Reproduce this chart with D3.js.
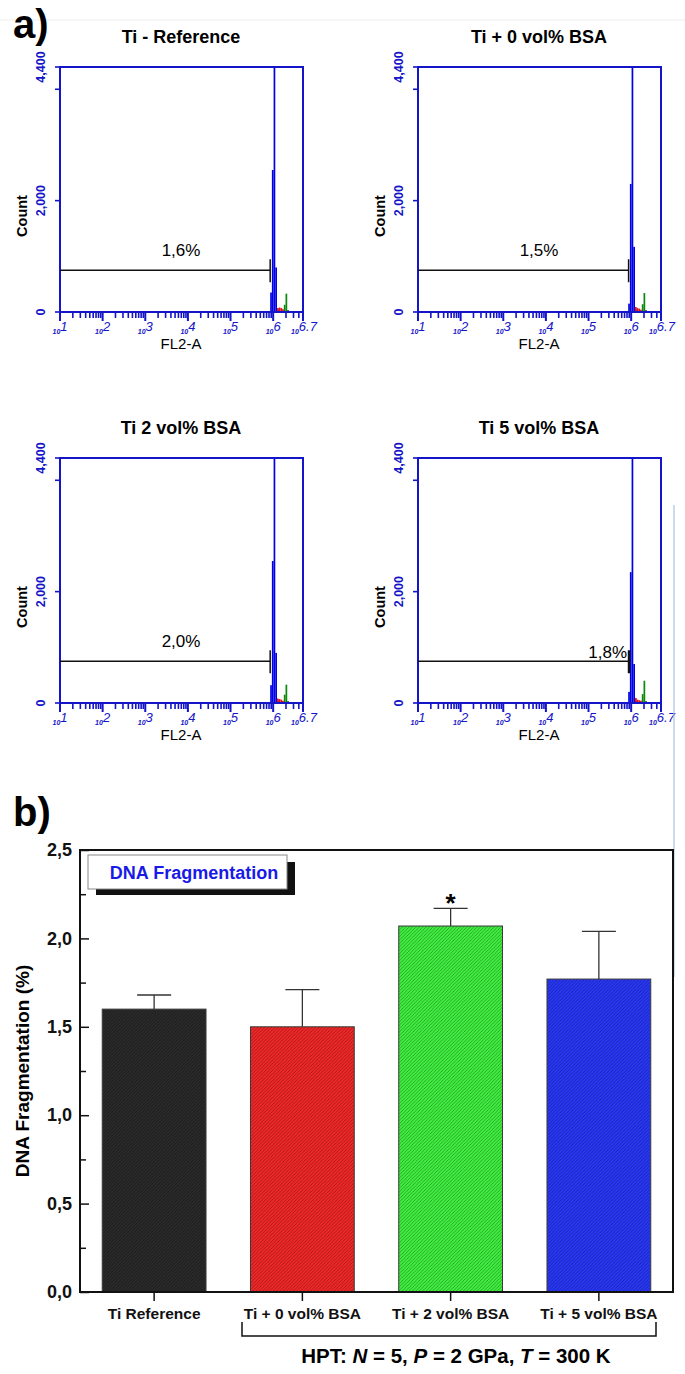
<!DOCTYPE html>
<html>
<head>
<meta charset="utf-8">
<script src="https://cdn.jsdelivr.net/npm/d3@7"></script>
<style>
  body { margin: 0; background: #fff; }
  svg { display: block; font-family: "Liberation Sans", Arial, sans-serif; }
</style>
</head>
<body>
<div id="chart"></div>
<script>
// ---- panel a) flow cytometry histograms ----
const panelTitles = ['Ti - Reference', 'Ti + 0 vol% BSA', 'Ti 2 vol% BSA', 'Ti 5 vol% BSA'];
const gateLabels = ['1,6%', '1,5%', '2,0%', '1,8%'];
const gateEnd = [5.93, 5.94, 5.93, 5.95];     // log10 FL2-A where the gate marker stops
const gateCount = [750, 750, 750, 750];       // marker height in counts
const countTicks = [0, 2000, 4400];
const countTickLabels = ['0', '2,000', '4,400'];
const decades = [1, 2, 3, 4, 5, 6, 6.7];

// bins: [log10 start, count]
const blueBins = [
  [[5.93, 350], [5.97, 2550], [6.01, 9000], [6.05, 800], [6.09, 40]],
  [[5.93, 150], [5.97, 2300], [6.01, 9000], [6.05, 1170], [6.09, 40]],
  [[5.93, 320], [5.97, 2550], [6.01, 9000], [6.05, 900], [6.09, 40]],
  [[5.93, 200], [5.97, 2350], [6.01, 9000], [6.05, 700], [6.09, 40]]
];
const redBins = [
  [[6.09, 70], [6.13, 80], [6.17, 70], [6.21, 50]],
  [[6.09, 90], [6.13, 70], [6.17, 60], [6.21, 40]],
  [[6.09, 80], [6.13, 70], [6.17, 60], [6.21, 40]],
  [[6.09, 90], [6.13, 60], [6.17, 50], [6.21, 40]]
];
const greenBins = [
  [[6.25, 130], [6.29, 330]],
  [[6.25, 140], [6.29, 340]],
  [[6.25, 150], [6.29, 330]],
  [[6.25, 160], [6.29, 400]]
];
const blackBins = [
  [[6.33, 30], [6.37, 10]],
  [[6.33, 30], [6.37, 10]],
  [[6.33, 30], [6.37, 15]],
  [[6.33, 30], [6.37, 10]]
];

// ---- panel b) bar chart ----
const groups = ['Ti Reference', 'Ti + 0 vol% BSA', 'Ti + 2 vol% BSA', 'Ti + 5 vol% BSA'];
const means = [1.60, 1.50, 2.07, 1.77];
const errors = [0.08, 0.21, 0.10, 0.27];
const significant = [false, false, true, false];
const barColors = ['#2a2a2a', '#f02828', '#40f040', '#2838f4'];
const hatchColors = ['#111111', '#7a1010', '#1a701a', '#121580'];
const yTicks = [0, 0.5, 1, 1.5, 2, 2.5];

const width = 685;
const height = 1374;
const font = '"Liberation Sans", Arial, sans-serif';

const svg = d3.select('#chart')
  .append('svg')
  .attr('width', width)
  .attr('height', height);

const blue = '#1414c8';

// faint rule at the very top of the figure
svg.append('line')
  .attr('x1', 0).attr('x2', width).attr('y1', 20).attr('y2', 20)
  .attr('stroke', '#eeeeee');

svg.append('text')
  .attr('x', 13).attr('y', 38)
  .attr('font-size', 40).attr('font-weight', 'bold')
  .text('a)');

const panelPos = [
  { x: 60, y: 67 },
  { x: 418, y: 67 },
  { x: 60, y: 458 },
  { x: 418, y: 458 }
];
const pw = 243;
const ph = 245;

const defs = svg.append('defs');

panelPos.forEach((p, i) => drawHist(i, p));

function drawHist(i, p) {
  const x = d3.scaleLinear().domain([1, 6.7]).range([p.x, p.x + pw]);
  const y = d3.scaleLinear().domain([0, 4400]).range([p.y + ph, p.y]);
  const g = svg.append('g');

  defs.append('clipPath').attr('id', 'clip' + i)
    .append('rect')
    .attr('x', p.x).attr('y', p.y).attr('width', pw).attr('height', ph);

  // title
  g.append('text')
    .attr('x', p.x + 121).attr('y', p.y - 24)
    .attr('text-anchor', 'middle')
    .attr('font-size', 18).attr('font-weight', 'bold')
    .text(panelTitles[i]);

  // histogram bins
  const bins = g.append('g').attr('clip-path', `url(#clip${i})`);
  const step = 0.04;
  [[blueBins[i], '#0000e6'], [redBins[i], '#e01010'], [greenBins[i], '#0a8a0a'], [blackBins[i], '#000']]
    .forEach(([data, col]) => {
      bins.selectAll(null)
        .data(data)
        .join('rect')
        .attr('x', d => x(d[0]))
        .attr('width', d => x(d[0] + step) - x(d[0]))
        .attr('y', d => y(d[1]))
        .attr('height', d => y(0) - y(d[1]))
        .attr('fill', col);
    });

  // frame
  g.append('rect')
    .attr('x', p.x).attr('y', p.y).attr('width', pw).attr('height', ph)
    .attr('fill', 'none').attr('stroke', blue).attr('stroke-width', 2);

  // log ticks on x axis
  const minor = [];
  for (let d = 1; d < 7; d++) {
    for (let m = 2; m <= 9; m++) {
      const v = d + Math.log10(m);
      if (v < 6.7) minor.push(v);
    }
  }
  g.selectAll(null).data(minor).join('line')
    .attr('x1', d => x(d)).attr('x2', d => x(d))
    .attr('y1', y(0)).attr('y2', y(0) + 6)
    .attr('stroke', blue).attr('stroke-width', 1.6);
  g.selectAll(null).data(decades).join('line')
    .attr('x1', d => x(d)).attr('x2', d => x(d))
    .attr('y1', y(0)).attr('y2', y(0) + 9)
    .attr('stroke', blue).attr('stroke-width', 2);

  const xl = g.selectAll(null).data(decades).join('text')
    .attr('x', d => x(d) + (d === 6.7 ? 1 : 0))
    .attr('y', y(0) + 20)
    .attr('text-anchor', 'middle')
    .attr('fill', blue)
    .attr('font-style', 'italic');
  xl.append('tspan').attr('font-size', 7).attr('font-weight', 'bold').attr('dy', 2).text('10');
  xl.append('tspan').attr('font-size', 13).attr('dy', -3).text(d => String(d));

  g.append('text')
    .attr('x', p.x + 121).attr('y', y(0) + 37)
    .attr('text-anchor', 'middle')
    .attr('font-size', 15)
    .text('FL2-A');

  // count axis
  g.selectAll(null).data([0, 2000, 4000, 4400]).join('line')
    .attr('x1', p.x).attr('x2', p.x - 5)
    .attr('y1', d => y(d)).attr('y2', d => y(d))
    .attr('stroke', blue).attr('stroke-width', 1.6);
  g.selectAll(null).data(countTicks).join('text')
    .attr('transform', d => `translate(${p.x - 19},${y(d)}) rotate(-90)`)
    .attr('text-anchor', 'middle')
    .attr('dy', '0.35em')
    .attr('fill', blue)
    .attr('font-size', 12.5).attr('font-weight', 'bold')
    .text((d, k) => countTickLabels[k]);

  g.append('text')
    .attr('transform', `translate(${p.x - 38},${p.y + 149}) rotate(-90)`)
    .attr('text-anchor', 'middle')
    .attr('dy', '0.35em')
    .attr('font-size', 14.5).attr('font-weight', 'bold')
    .text('Count');

  // gate marker
  const gy = y(gateCount[i]);
  const gx = x(gateEnd[i]);
  g.append('line')
    .attr('x1', p.x).attr('x2', gx).attr('y1', gy).attr('y2', gy)
    .attr('stroke', '#111').attr('stroke-width', 1.5);
  g.append('line')
    .attr('x1', gx).attr('x2', gx).attr('y1', gy - 11).attr('y2', gy + 12)
    .attr('stroke', '#111').attr('stroke-width', i === 3 ? 2.5 : 1.5);
  if (i === 3) {
    g.append('text')
      .attr('x', gx - 2).attr('y', gy - 3)
      .attr('text-anchor', 'end')
      .attr('font-size', 17)
      .text(gateLabels[i]);
  } else {
    g.append('text')
      .attr('x', p.x + 121).attr('y', gy - 14)
      .attr('text-anchor', 'middle')
      .attr('font-size', 17)
      .text(gateLabels[i]);
  }
}

// stray light-blue rule on the right edge
svg.append('line')
  .attr('x1', 674).attr('x2', 674).attr('y1', 505).attr('y2', 977)
  .attr('stroke', '#a9c3de').attr('stroke-width', 1.2);

// ---- panel b) ----
svg.append('text')
  .attr('x', 13).attr('y', 826)
  .attr('font-size', 40).attr('font-weight', 'bold')
  .text('b)');

const frame = { left: 80, right: 673, top: 850, bottom: 1292 };

const xScale = d3.scaleBand()
  .domain(groups)
  .range([frame.left, frame.right])
  .paddingInner(0.3)
  .paddingOuter(0.15);

const yScale = d3.scaleLinear()
  .domain([0, 2.5])
  .range([frame.bottom, frame.top]);

groups.forEach((grp, i) => {
  const pat = defs.append('pattern')
    .attr('id', 'hatch' + i)
    .attr('patternUnits', 'userSpaceOnUse')
    .attr('width', 3.4).attr('height', 3.4);
  pat.append('rect').attr('width', 3.4).attr('height', 3.4).attr('fill', barColors[i]);
  pat.append('path')
    .attr('d', 'M-1,1 l2,-2 M0,3.4 l3.4,-3.4 M2.4,4.4 l2,-2')
    .attr('stroke', hatchColors[i]).attr('stroke-width', 0.6);
});

const bars = svg.append('g');

// error bars (upper only)
bars.selectAll('.err')
  .data(groups)
  .join('g')
  .each(function (grp, i) {
    const cx = xScale(grp) + xScale.bandwidth() / 2;
    const g = d3.select(this);
    g.append('line')
      .attr('x1', cx).attr('x2', cx)
      .attr('y1', yScale(means[i])).attr('y2', yScale(means[i] + errors[i]))
      .attr('stroke', '#333').attr('stroke-width', 1.3);
    g.append('line')
      .attr('x1', cx - 17).attr('x2', cx + 17)
      .attr('y1', yScale(means[i] + errors[i])).attr('y2', yScale(means[i] + errors[i]))
      .attr('stroke', '#333').attr('stroke-width', 1.3);
    if (significant[i]) {
      g.append('text')
        .attr('x', cx).attr('y', yScale(means[i] + errors[i]) + 4)
        .attr('text-anchor', 'middle')
        .attr('font-size', 26).attr('font-weight', 'bold')
        .text('*');
    }
  });

bars.selectAll('rect')
  .data(groups)
  .join('rect')
  .attr('x', d => xScale(d))
  .attr('width', xScale.bandwidth())
  .attr('y', (d, i) => yScale(means[i]))
  .attr('height', (d, i) => yScale(0) - yScale(means[i]))
  .attr('fill', (d, i) => `url(#hatch${i})`)
  .attr('stroke', '#3a3a3a').attr('stroke-width', 1);

// minor y ticks
svg.append('g')
  .attr('transform', `translate(${frame.left},0)`)
  .call(d3.axisLeft(yScale).tickValues([0.25, 0.75, 1.25, 1.75, 2.25]).tickSize(-6).tickFormat(''))
  .call(g => g.select('.domain').remove())
  .call(g => g.selectAll('line').attr('stroke', '#111').attr('stroke-width', 1.5));

// major y ticks
svg.append('g')
  .attr('transform', `translate(${frame.left},0)`)
  .call(d3.axisLeft(yScale).tickValues(yTicks).tickSize(-9).tickPadding(8)
    .tickFormat(d => d3.format('.1f')(d).replace('.', ',')))
  .call(g => g.select('.domain').remove())
  .call(g => g.selectAll('line').attr('stroke', '#111').attr('stroke-width', 1.5))
  .call(g => g.selectAll('text')
    .attr('font-size', 18).attr('font-weight', 'bold')
    .attr('font-family', font)
    .attr('fill', '#111'));

// x axis
svg.append('g')
  .attr('transform', `translate(0,${frame.bottom})`)
  .call(d3.axisBottom(xScale).tickSize(9).tickPadding(7))
  .call(g => g.select('.domain').remove())
  .call(g => g.selectAll('line').attr('stroke', '#111').attr('stroke-width', 1.5))
  .call(g => g.selectAll('text')
    .attr('font-size', 15.5).attr('font-weight', 'bold')
    .attr('font-family', font)
    .attr('fill', '#111'));

// frame
svg.append('rect')
  .attr('x', frame.left).attr('y', frame.top)
  .attr('width', frame.right - frame.left).attr('height', frame.bottom - frame.top)
  .attr('fill', 'none').attr('stroke', '#111').attr('stroke-width', 2);

// y title
svg.append('text')
  .attr('transform', `translate(22,${(frame.top + frame.bottom) / 2}) rotate(-90)`)
  .attr('text-anchor', 'middle')
  .attr('dy', '0.35em')
  .attr('font-size', 19).attr('font-weight', 'bold')
  .text('DNA Fragmentation (%)');

// legend box with shadow
svg.append('rect')
  .attr('x', 96).attr('y', 862).attr('width', 199).attr('height', 33)
  .attr('fill', '#111');
svg.append('rect')
  .attr('x', 88).attr('y', 855).attr('width', 199).attr('height', 34)
  .attr('fill', '#fff').attr('stroke', '#888').attr('stroke-width', 1);
svg.append('text')
  .attr('x', 194).attr('y', 879)
  .attr('text-anchor', 'middle')
  .attr('font-size', 18).attr('font-weight', 'bold')
  .attr('fill', '#1a1ae6')
  .text('DNA Fragmentation');

// HPT bracket
const bx0 = 242, bx1 = 656;
svg.append('path')
  .attr('d', `M${bx0},1322 V1336 H${bx1} V1322`)
  .attr('fill', 'none').attr('stroke', '#111').attr('stroke-width', 1.5);

const hpt = svg.append('text')
  .attr('x', 456).attr('y', 1363)
  .attr('text-anchor', 'middle')
  .attr('font-size', 20.5).attr('font-weight', 'bold');
hpt.append('tspan').text('HPT: ');
hpt.append('tspan').attr('font-style', 'italic').text('N');
hpt.append('tspan').text(' = 5, ');
hpt.append('tspan').attr('font-style', 'italic').text('P');
hpt.append('tspan').text(' = 2 GPa, ');
hpt.append('tspan').attr('font-style', 'italic').text('T');
hpt.append('tspan').text(' = 300 K');
</script>
</body>
</html>
